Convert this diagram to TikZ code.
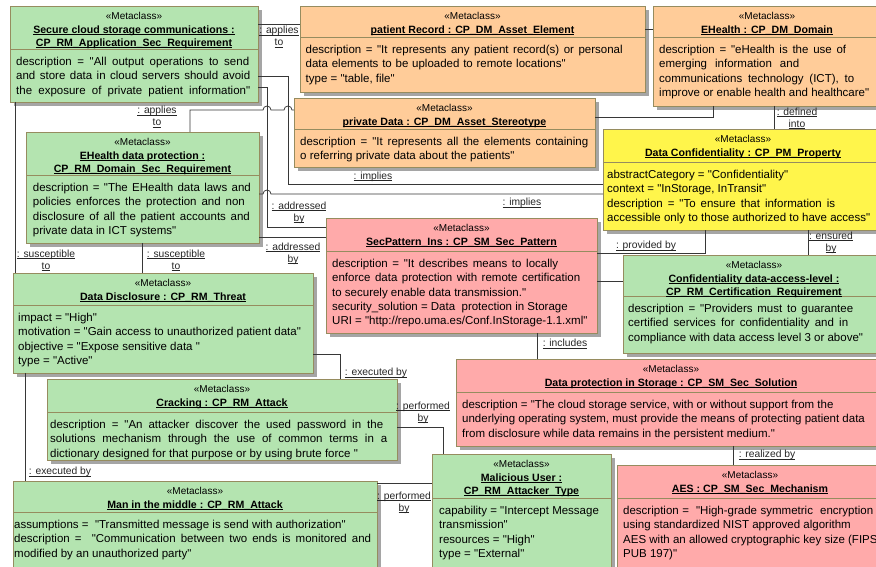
\documentclass[tikz,border=0pt]{standalone}
\usepackage{fontspec}
\setmainfont{Liberation Sans}[Ligatures=TeXOff]
\definecolor{gfill}{RGB}{180,228,176}
\definecolor{ofill}{RGB}{255,204,153}
\definecolor{yfill}{RGB}{255,245,75}
\definecolor{pfill}{RGB}{255,170,170}
\definecolor{bord}{RGB}{150,140,95}
\definecolor{shad}{RGB}{165,165,165}
\definecolor{lnc}{RGB}{55,55,55}
\tikzset{
  boxframe/.style={draw=bord, line width=0.8pt, inner sep=0pt, outer sep=0pt, anchor=north west, rectangle},
  metat/.style={anchor=base, inner sep=0pt, font=\fontsize{10}{12}\selectfont},
  titlet/.style={anchor=north, inner sep=0pt, align=center, font=\fontsize{10.6}{13}\selectfont\bfseries},
  bodyt/.style={anchor=north west, inner sep=0pt, align=left, font=\fontsize{11.5}{14.3}\selectfont},
  lab/.style={inner sep=0pt, align=center, font=\fontsize{10.3}{12}\selectfont, text=black!85},
  conn/.style={draw=lnc, line width=0.75pt},
}
\newsavebox\ulbox
\newcommand{\ulx}[1]{\sbox\ulbox{#1}\rlap{\rule[-1.6pt]{\wd\ulbox}{0.6pt}}\usebox\ulbox}
\newcommand{\jl}[2]{\makebox[#1pt][s]{#2}}
% name, x1, y1, x2, y2, divider y, fill, title
\newcommand{\umlbox}[8]{%
  \fill[shad] (#2+4,#3+4) rectangle (#4+4,#5+4);
  \node[boxframe, fill=#7, minimum width={(#4-#2)*1pt}, minimum height={(#5-#3)*1pt}] (#1) at (#2,#3) {};
  \draw[bord, line width=0.8pt] (#2,#6) -- (#4,#6);
  \node[metat] (#1m) at ({(#2+#4)/2},#3+13.6) {«Metaclass»};
  \node[titlet] (#1h) at ({(#2+#4)/2},#3+19.6) {#8};
}
\begin{document}
\begin{tikzpicture}[x=1pt,y=-1pt]
\useasboundingbox (0,0) rectangle (876,567);
\fill[white] (0,0) rectangle (876,567);
\clip (0,0) rectangle (876,567);

% ---------- boxes ----------
\umlbox{b1}{10}{6}{258}{102}{49}{gfill}{\ulx{Secure cloud storage communications :}\\\ulx{CP\_RM\_Application\_Sec\_Requirement}}
\node[bodyt] (b1t) at (16,57) {\jl{233}{description = "All output operations to send}\\
\jl{234}{and store data in cloud servers should avoid}\\
\jl{234}{the exposure of private patient information"}};

\umlbox{b2}{300}{6}{645}{92}{37}{ofill}{\ulx{patient Record : CP\_DM\_Asset\_Element}}
\node[bodyt] (b2t) at (305.5,45) {\jl{317}{description = "It represents any patient record(s) or personal}\\
\jl{260}{data elements to be uploaded to remote locations"}\\
type = "table, file"};

\umlbox{b3}{653}{6}{881}{106}{37}{ofill}{\ulx{EHealth : CP\_DM\_Domain}}
\node[bodyt] (b3t) at (659,45) {\jl{187}{description = "eHealth is the use of}\\
\jl{140}{emerging information and}\\
\jl{195}{communications technology (ICT), to}\\
improve or enable health and healthcare"};

\umlbox{b4}{294}{98}{595}{167}{129}{ofill}{\ulx{private Data : CP\_DM\_Asset\_Stereotype}}
\node[bodyt] (b4t) at (300,137) {\jl{288}{description = "It represents all the elements containing}\\
o referring private data about the patients"};

\umlbox{b5}{26}{132}{259}{243}{175}{gfill}{\ulx{EHealth data protection :}\\\ulx{CP\_RM\_Domain\_Sec\_Requirement}}
\node[bodyt] (b5t) at (32.7,183) {\jl{218}{description = "The EHealth data laws and}\\
\jl{212}{policies enforces the protection and non}\\
\jl{217}{disclosure of all the patient accounts and}\\
private data in ICT systems"};

\umlbox{b6}{603}{129}{883}{230}{162}{yfill}{\ulx{Data Confidentiality : CP\_PM\_Property}}
\node[bodyt] (b6t) at (607,170) {abstractCategory = "Confidentiality"\\
context = "InStorage, InTransit"\\
\jl{228}{description = "To ensure that information is}\\
accessible only to those authorized to have access"};

\umlbox{b7}{326}{218}{597}{333}{251}{pfill}{\ulx{SecPattern\_Ins : CP\_SM\_Sec\_Pattern}}
\node[bodyt] (b7t) at (332,259) {\jl{226}{description = "It describes means to locally}\\
\jl{248}{enforce data protection with remote certification}\\
to securely enable data transmission."\\
security\_solution = Data\ \ protection in Storage\\
URI = "http://repo.uma.es/Conf.InStorage-1.1.xml"};

\umlbox{b8}{13}{273}{313}{373}{305}{gfill}{\ulx{Data Disclosure : CP\_RM\_Threat}}
\node[bodyt] (b8t) at (18,313) {impact = "High"\\
motivation = "Gain access to unauthorized patient data"\\
objective = "Expose sensitive data "\\
type = "Active"};

\umlbox{b9}{623}{255}{885}{353}{296}{gfill}{\ulx{Confidentiality data-access-level :}\\\ulx{CP\_RM\_Certification\_Requirement}}
\node[bodyt] (b9t) at (628,304) {\jl{225}{description = "Providers must to guarantee}\\
\jl{220}{certified services for confidentiality and in}\\
compliance with data access level 3 or above"};

\umlbox{b10}{47}{379}{397}{460}{412}{gfill}{\ulx{Cracking : CP\_RM\_Attack}}
\node[bodyt] (b10t) at (50,420) {\jl{333}{description = "An attacker discover the used password in the}\\
\jl{337}{solutions mechanism through the use of common terms in a}\\
dictionary designed for that purpose or by using brute force "};

\umlbox{b11}{456}{359}{886}{446}{392}{pfill}{\ulx{Data protection in Storage : CP\_SM\_Sec\_Solution}}
\node[bodyt] (b11t) at (462,400) {description = "The cloud storage service, with or without support from the\\
underlying operating system, must provide the means of protecting patient data\\
from disclosure while data remains in the persistent medium."};

\umlbox{b12}{13}{481}{377}{568}{512}{gfill}{\ulx{Man in the middle : CP\_RM\_Attack}}
\node[bodyt] (b12t) at (14,520) {assumptions =\ \ "Transmitted message is send with authorization"\\
\jl{357}{description =\ \ "Communication between two ends is monitored and}\\
modified by an unauthorized party"};

\umlbox{b13}{432}{454}{611}{570}{498}{gfill}{\ulx{Malicious User :}\\\ulx{CP\_RM\_Attacker\_Type}}
\node[bodyt] (b13t) at (439,506) {capability = "Intercept Message\\
transmission"\\
resources = "High"\\
type = "External"};

\umlbox{b14}{617}{465}{883}{570}{498}{pfill}{\ulx{AES : CP\_SM\_Sec\_Mechanism}}
\node[bodyt] (b14t) at (623,506) {\jl{250}{description =\ \ "High-grade symmetric\ \ encryption}\\
using standardized NIST approved algorithm\\
AES with an allowed cryptographic key size (FIPS\\
PUB 197)"};

% ---------- connectors ----------
\draw[conn] (b1.east |- 0,24) -- (b2.west |- 0,24);
\draw[conn] (b2.east |- 0,29) -- (b3.west |- 0,29);
\draw[conn] (b4.east |- 0,117) -- (713,117) -- (713,0 |- b3.south);
\draw[conn] (774,0 |- b3.south) -- (774,0 |- b6.north);
\draw[conn] (b1.east |- 0,76) -- (288,76) -- (288,184) -- (b6.west |- 0,184);
\draw[conn] (b1.east |- 0,87) -- (267,87) -- (267,227) -- (b7.west |- 0,227);
\draw[conn] (190,0 |- b5.north) -- (190,110) -- (263,110)
  arc[start angle=180,end angle=0,radius=4pt] -- (284,110)
  arc[start angle=180,end angle=0,radius=4pt] -- (b4.west |- 0,110);
\draw[conn] (b5.east |- 0,194) -- (263,194)
  arc[start angle=180,end angle=0,radius=4pt] -- (b6.west |- 0,194);
\draw[conn] (b5.east |- 0,237) -- (b7.west |- 0,237);
\draw[conn] (b7.east |- 0,253) -- (705,253) -- (705,0 |- b6.south);
\draw[conn] (b7.east |- 0,281) -- (b9.west |- 0,281);
\draw[conn] (808,0 |- b6.south) -- (808,0 |- b9.north);
\draw[conn] (537,0 |- b7.south) -- (537,0 |- b11.north);
\draw[conn] (733,0 |- b11.south) -- (733,0 |- b14.north);
\draw[conn] (15,0 |- b1.south) -- (15,0 |- b8.north);
\draw[conn] (142,0 |- b5.south) -- (142,0 |- b8.north);
\draw[conn] (b8.east |- 0,354) -- (340,354) -- (340,0 |- b10.north);
\draw[conn] (25,0 |- b8.south) -- (25,0 |- b12.north);
\draw[conn] (b10.east |- 0,427) -- (443,427) -- (443,0 |- b13.north);
\draw[conn] (b12.east |- 0,483) -- (b13.west |- 0,483);

% ---------- labels ----------
\node[lab] (l1) at (279,37) {\ulx{: applies}\\\ulx{to}};
\node[lab] (l2) at (797,118.5) {\ulx{: defined}\\\ulx{into}};
\node[lab] (l3) at (157,117) {\ulx{: applies}\\\ulx{to}};
\node[lab] (l4) at (373,176.5) {\ulx{: implies}};
\node[lab] (l5) at (522,203) {\ulx{: implies}};
\node[lab] (l6) at (299,212.5) {\ulx{: addressed}\\\ulx{by}};
\node[lab] (l7) at (293,253.5) {\ulx{: addressed}\\\ulx{by}};
\node[lab] (l8) at (646,246) {\ulx{: provided by}};
\node[lab] (l9) at (831,242.5) {\ulx{: ensured}\\\ulx{by}};
\node[lab] (l10) at (565,344) {\ulx{: includes}};
\node[lab] (l11) at (767,455) {\ulx{: realized by}};
\node[lab] (l12) at (46,260.5) {\ulx{: susceptible}\\\ulx{to}};
\node[lab] (l13) at (176,260.5) {\ulx{: susceptible}\\\ulx{to}};
\node[lab] (l14) at (376,373) {\ulx{: executed by}};
\node[lab] (l15) at (60,472) {\ulx{: executed by}};
\node[lab] (l16) at (423,412.5) {\ulx{: performed}\\\ulx{by}};
\node[lab] (l17) at (404,502.5) {\ulx{: performed}\\\ulx{by}};
\end{tikzpicture}
\end{document}
